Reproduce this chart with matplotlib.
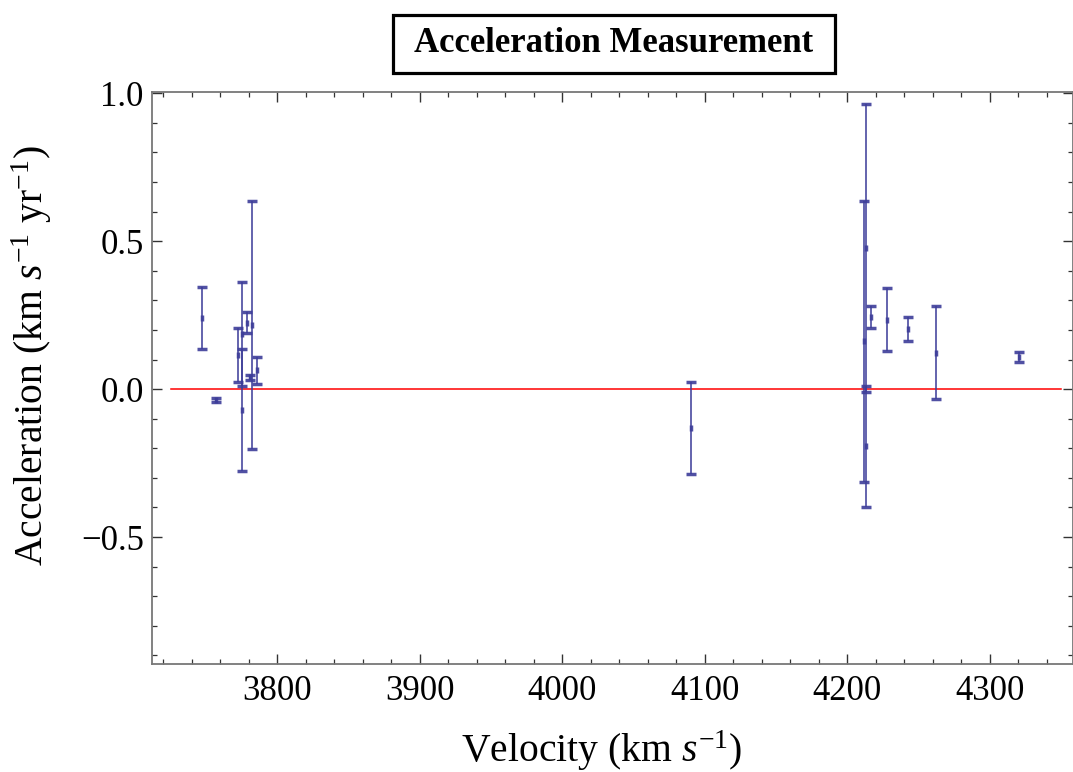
import numpy as np
import matplotlib
matplotlib.use('Agg')
import matplotlib.pyplot as plt
from matplotlib.patches import Rectangle
from matplotlib.ticker import MultipleLocator

plt.rcParams['font.family'] = ['Liberation Serif', 'DejaVu Serif']
plt.rcParams['mathtext.fontset'] = 'custom'
plt.rcParams['mathtext.rm'] = 'Liberation Serif'
plt.rcParams['mathtext.it'] = 'Liberation Serif:italic'

velocity = [3746.9, 3757.0, 3772.6, 3775.5, 3775.5, 3779.0, 3781.0, 3782.0, 3785.5,
            4090.1, 4211.9, 4213.2, 4213.2, 4216.8, 4228.0, 4242.5, 4262.4, 4320.7]
accel = [0.241, -0.037, 0.115, -0.071, 0.187, 0.224, 0.040, 0.217, 0.064,
         -0.131, 0.161, 0.478, -0.193, 0.243, 0.235, 0.203, 0.123, 0.109]
accel_err = [0.105, 0.008, 0.090, 0.206, 0.175, 0.035, 0.008, 0.419, 0.046,
             0.156, 0.474, 0.487, 0.204, 0.038, 0.105, 0.041, 0.158, 0.017]

zero_x = [3725, 4350]
zero_y = [0.0, 0.0]

bar_col = '#3d3d99'

fig = plt.figure(figsize=(10.73, 7.72), dpi=100)
ax = fig.add_axes([152/1073, 108/772, 921/1073, 572/772])

ax.plot(zero_x, zero_y, color='red', lw=1.1, zorder=1)
ax.errorbar(velocity, accel, yerr=accel_err, fmt='|', color=bar_col,
            ms=5, mew=2.5, elinewidth=1.25, capsize=3.6, capthick=1.2,
            alpha=0.9, zorder=2)

ax.set_xlim(3712, 4358.5)
ax.set_ylim(-0.929, 1.004)

ax.xaxis.set_major_locator(MultipleLocator(100))
ax.xaxis.set_minor_locator(MultipleLocator(20))
ax.yaxis.set_major_locator(MultipleLocator(0.5))
ax.yaxis.set_minor_locator(MultipleLocator(0.1))
ax.yaxis.set_major_formatter(plt.FuncFormatter(lambda v, p: ('\u2212' if v < -1e-9 else '') + '%.1f' % abs(v)))

ax.tick_params(which='both', direction='in', top=True, right=True, colors='#333333',
               labelcolor='black', labelsize=25)
ax.tick_params(which='major', length=7.5, width=1.0)
ax.tick_params(which='minor', length=3.8, width=0.9)
ax.tick_params(axis='x', pad=8)
ax.tick_params(axis='y', pad=6)
for s in ax.spines.values():
    s.set_color('#777777')
    s.set_linewidth(1.3)

ax.set_xlabel(r'Velocity (km $s^{-1}$)', fontsize=28.5)
ax.set_ylabel(r'Acceleration (km $s^{-1}$ yr$^{-1}$)', fontsize=28.5)
ax.xaxis.set_label_coords(0.488, -0.112)
ax.yaxis.set_label_coords(-0.106, 0.54)

# boxed title
fig.patches.append(Rectangle((393/1073, 1 - 73/772), 442/1073, 58/772,
                             transform=fig.transFigure, fill=False,
                             lw=2.3, ec='black'))
fig.text(614/1073, 1 - 44/772, 'Acceleration Measurement', ha='center', va='center',
         fontsize=25, fontweight='bold')

fig.savefig('out.png', dpi=100)
